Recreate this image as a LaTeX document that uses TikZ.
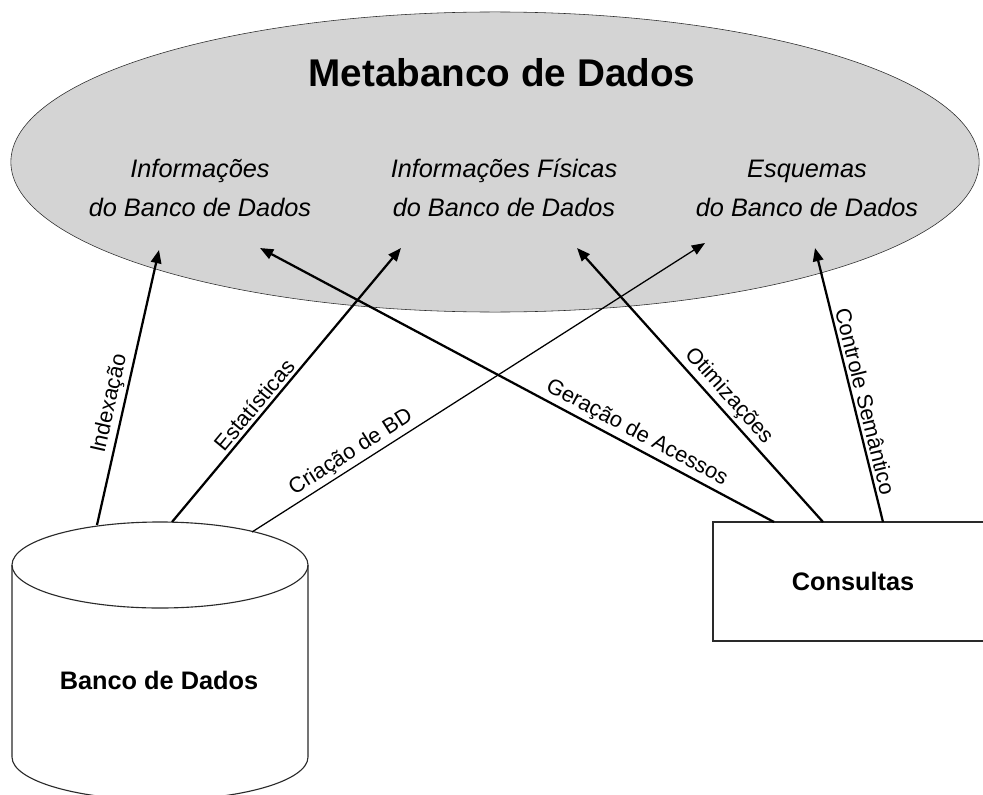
\documentclass[tikz,border=0pt]{standalone}
\usepackage{fontspec}
\setmainfont{Liberation Sans}
\usepackage{tikz}
\usetikzlibrary{arrows.meta, positioning, shapes.geometric, calc}
\definecolor{metafill}{HTML}{D4D4D4}
\definecolor{outline}{HTML}{2A2A2A}

\begin{document}
\begin{tikzpicture}[
    x=0.025cm, y=0.025cm,
    meta/.style={ellipse, draw=outline, fill=metafill, minimum width=24.2cm,
                 minimum height=7.5cm, inner sep=0pt},
    info/.style={align=center, font=\itshape\fontsize{18}{27.7}\selectfont},
    store/.style={draw=outline, line width=0.8pt},
    query/.style={rectangle, draw=outline, line width=0.9pt, minimum width=7cm,
                  minimum height=2.975cm, font=\bfseries\fontsize{18}{22}\selectfont},
    flow/.style={{Triangle[length=3.3mm, width=2.6mm]}-, line width=1.6pt},
    thinflow/.style={-{Triangle[length=3.3mm, width=2.6mm]}, line width=0.9pt},
    label/.style={font=\fontsize{15.5}{18}\selectfont, inner sep=2pt}
  ]
    \useasboundingbox (0,0) rectangle (983,-794);

    % Metadata ellipse
    \node[meta] (meta) at (495,-162) {};
    \node[font=\bfseries\fontsize{27.5}{33}\selectfont] (title) at (502,-73) {Metabanco de Dados};
    \node[info] (infobd) at (200,-188) {Informações\\do Banco de Dados};
    \node[info] (fisica) at (504,-188) {Informações Físicas\\do Banco de Dados};
    \node[info] (esquema) at (807,-188) {Esquemas\\do Banco de Dados};

    % Database cylinder
    \draw[store] (160,-565) ellipse [x radius=148, y radius=43];
    \draw[store] (12,-565) -- (12,-757) arc[start angle=180, end angle=360, x radius=148, y radius=43] -- (308,-565);
    \node[font=\bfseries\fontsize{18}{22}\selectfont] (bd) at (159,-680) {Banco de Dados};

    % Queries box
    \node[query] (cons) at (853,-581.5) {Consultas};

    % Arrow ends
    \coordinate (idx-s) at (97,-525);
    \coordinate (idx-e) at (159,-250);
    \coordinate (est-s) at (172,-522);
    \coordinate (est-e) at (401,-248);
    \coordinate (cri-s) at (252,-532);
    \coordinate (cri-e) at (705,-243);
    \coordinate (ger-s) at (774,-522);
    \coordinate (ger-e) at (260,-248);
    \coordinate (oti-s) at (823,-522);
    \coordinate (oti-e) at (577,-248);
    \coordinate (sem-s) at (883,-522);
    \coordinate (sem-e) at (815,-248);

    % From the database
    \draw[flow] (idx-e) -- node[label, sloped, above, pos=0.57] {Indexação} (idx-s);
    \draw[flow] (est-e) -- node[label, sloped, above, pos=0.60] {Estatísticas} (est-s);
    \draw[thinflow] (cri-s) -- node[label, sloped, above, pos=0.235] {Criação de BD} (cri-e);

    % From the queries
    \draw[flow] (ger-e) -- node[label, sloped, above, pos=0.72] {Geração de Acessos} (ger-s);
    \draw[flow] (oti-e) -- node[label, sloped, above, pos=0.575] {Otimizações} (oti-s);
    \draw[flow] (sem-e) -- node[label, sloped, above, pos=0.57] {Controle Semântico} (sem-s);
  \end{tikzpicture}
\end{document}
